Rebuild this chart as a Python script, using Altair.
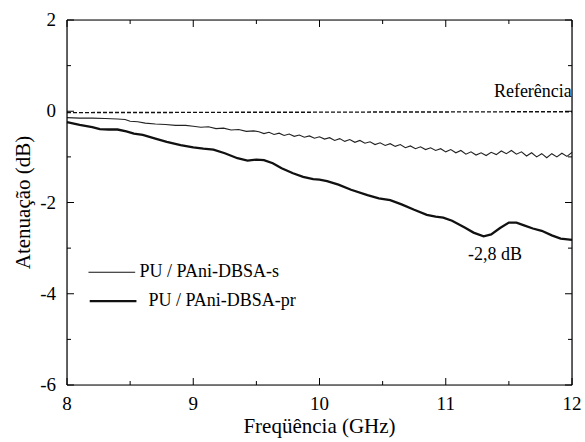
import altair as alt
import pandas as pd

# ---- data ----
s_x = [8.0, 8.1, 8.2, 8.3, 8.4, 8.46, 8.5, 8.56, 8.62, 8.7, 8.78, 8.86, 8.94, 9.0, 9.06, 9.12,
       9.18, 9.24, 9.3, 9.36, 9.42, 9.48,
       9.52, 9.56, 9.60, 9.64, 9.68, 9.72, 9.76, 9.80, 9.84, 9.88, 9.92, 9.96, 10.00, 10.04,
       10.08, 10.12, 10.16, 10.20, 10.24, 10.28, 10.32, 10.36, 10.40, 10.44, 10.48, 10.52,
       10.56, 10.60, 10.64, 10.68, 10.72, 10.76, 10.80, 10.84, 10.88, 10.92, 10.96, 11.00,
       11.04, 11.08, 11.12, 11.16, 11.20, 11.24, 11.28, 11.32, 11.36, 11.40, 11.44, 11.48,
       11.52, 11.56, 11.60, 11.64, 11.68, 11.72, 11.76, 11.80, 11.84, 11.88, 11.92, 11.96, 12.00]
s_y = [-0.14, -0.15, -0.15, -0.16, -0.17, -0.18, -0.22, -0.23, -0.26, -0.28, -0.29, -0.31, -0.31, -0.33, -0.35, -0.34,
       -0.38, -0.37, -0.41, -0.40, -0.44, -0.43,
       -0.45, -0.49, -0.46, -0.51, -0.48, -0.53, -0.50, -0.55, -0.52, -0.57, -0.54, -0.59, -0.56, -0.61,
       -0.58, -0.64, -0.60, -0.66, -0.62, -0.68, -0.64, -0.70, -0.67, -0.73, -0.69, -0.75,
       -0.71, -0.77, -0.73, -0.80, -0.76, -0.82, -0.78, -0.84, -0.80, -0.86, -0.82, -0.89,
       -0.84, -0.91, -0.86, -0.94, -0.89, -0.96, -0.91, -0.97, -0.90, -0.95, -0.87, -0.93,
       -0.86, -0.94, -0.89, -0.98, -0.91, -1.00, -0.93, -1.02, -0.93, -1.00, -0.92, -0.99, -0.90]

pr_x = [8.0, 8.1, 8.2, 8.26, 8.33, 8.40, 8.47, 8.53, 8.60, 8.70, 8.79, 8.9, 9.0, 9.08, 9.16, 9.25,
        9.35, 9.43, 9.50, 9.56, 9.63, 9.70, 9.79, 9.87, 9.95, 10.0, 10.06, 10.15, 10.25, 10.38,
        10.47, 10.56, 10.65, 10.75, 10.85, 10.92, 10.98, 11.05, 11.15, 11.22, 11.30, 11.36,
        11.43, 11.50, 11.56, 11.62, 11.69, 11.76, 11.84, 11.91, 12.0]
pr_y = [-0.24, -0.30, -0.35, -0.39, -0.40, -0.40, -0.44, -0.49, -0.52, -0.60, -0.67, -0.74, -0.79, -0.82, -0.84, -0.92,
        -1.03, -1.08, -1.06, -1.07, -1.14, -1.25, -1.36, -1.44, -1.49, -1.50, -1.53, -1.61, -1.72, -1.84,
        -1.91, -1.95, -2.04, -2.16, -2.27, -2.31, -2.33, -2.40, -2.55, -2.66, -2.74, -2.70,
        -2.56, -2.44, -2.44, -2.50, -2.57, -2.62, -2.72, -2.79, -2.82]

ref_x = [8.0, 12.0]
ref_y = [-0.03, -0.01]

legend_labels = ["PU / PAni-DBSA-s", "PU / PAni-DBSA-pr"]
legend_line_x1 = [8.17, 8.18]
legend_line_x2 = [8.54, 8.55]
legend_y = [-3.53, -4.16]
legend_text_x = [8.575, 8.645]

annot_text = ["Referência", "-2,8 dB"]
annot_x = [11.69, 11.39]
annot_y = [0.42, -3.15]

x_major = [8, 9, 10, 11, 12]
x_minor = [8.5, 9.5, 10.5, 11.5]
y_major = [-6, -4, -2, 0, 2]
y_minor = [-5, -3, -1, 1]
x_labels = ["8", "9", "10", "11", "12"]
y_labels = ["-6", "-4", "-2", "0", "2"]
x_title = "Freqüência (GHz)"
y_title = "Atenuação (dB)"

FONT = "Liberation Serif"
W, H = 505, 365

xs = alt.Scale(domain=[8, 12], nice=False, zero=False)
ys = alt.Scale(domain=[-6, 2], nice=False, zero=False)


def X(f):
    return alt.X(f, scale=xs, axis=None)


def Y(f):
    return alt.Y(f, scale=ys, axis=None)


layers = []

# curves
layers.append(alt.Chart(pd.DataFrame({"x": s_x, "y": s_y})).mark_line(
    color="#222222", strokeWidth=1.1).encode(x=X("x:Q"), y=Y("y:Q")))
layers.append(alt.Chart(pd.DataFrame({"x": pr_x, "y": pr_y})).mark_line(
    color="#111111", strokeWidth=2.3).encode(x=X("x:Q"), y=Y("y:Q")))
layers.append(alt.Chart(pd.DataFrame({"x": ref_x, "y": ref_y})).mark_line(
    color="#111111", strokeWidth=1.4, strokeDash=[4, 2]).encode(x=X("x:Q"), y=Y("y:Q")))

# legend lines (one chart each)
for i, w in enumerate([1.1, 2.3]):
    d = pd.DataFrame({"x1": [legend_line_x1[i]], "x2": [legend_line_x2[i]], "y": [legend_y[i]]})
    layers.append(alt.Chart(d).mark_rule(color="#111111", strokeWidth=w).encode(
        x=X("x1:Q"), x2="x2:Q", y=Y("y:Q")))

# frame
layers.append(alt.Chart(pd.DataFrame({"x": [8, 12]})).mark_rule(color="black", strokeWidth=1.2).encode(
    x=X("x:Q"), y=alt.value(0), y2=alt.value(H)))
layers.append(alt.Chart(pd.DataFrame({"y": [-6, 2]})).mark_rule(color="black", strokeWidth=1.2).encode(
    y=Y("y:Q"), x=alt.value(0), x2=alt.value(W)))

# inward ticks on all four sides
for vals, length in [(x_major, 7), (x_minor, 4)]:
    d = pd.DataFrame({"x": vals})
    layers.append(alt.Chart(d).mark_rule(color="black", strokeWidth=1).encode(
        x=X("x:Q"), y=alt.value(H), y2=alt.value(H - length)))
    layers.append(alt.Chart(d).mark_rule(color="black", strokeWidth=1).encode(
        x=X("x:Q"), y=alt.value(0), y2=alt.value(length)))
for vals, length in [(y_major, 7), (y_minor, 4)]:
    d = pd.DataFrame({"y": vals})
    layers.append(alt.Chart(d).mark_rule(color="black", strokeWidth=1).encode(
        y=Y("y:Q"), x=alt.value(0), x2=alt.value(length)))
    layers.append(alt.Chart(d).mark_rule(color="black", strokeWidth=1).encode(
        y=Y("y:Q"), x=alt.value(W), x2=alt.value(W - length)))

# texts
layers.append(alt.Chart(pd.DataFrame({"x": annot_x, "y": annot_y, "t": annot_text})).mark_text(
    font=FONT, fontSize=18, align="center").encode(x=X("x:Q"), y=Y("y:Q"), text="t:N"))
layers.append(alt.Chart(pd.DataFrame({"x": legend_text_x, "y": legend_y, "t": legend_labels})).mark_text(
    font=FONT, fontSize=18, align="left").encode(x=X("x:Q"), y=Y("y:Q"), text="t:N"))
layers.append(alt.Chart(pd.DataFrame({"v": x_major, "t": x_labels})).mark_text(
    font=FONT, fontSize=19, align="center").encode(x=X("v:Q"), y=alt.value(H + 19), text="t:N"))
layers.append(alt.Chart(pd.DataFrame({"v": y_major, "t": y_labels})).mark_text(
    font=FONT, fontSize=19, align="right").encode(y=Y("v:Q"), x=alt.value(-11), text="t:N"))
layers.append(alt.Chart(pd.DataFrame({"t": [x_title]})).mark_text(
    font=FONT, fontSize=21, align="center").encode(x=alt.value(W / 2), y=alt.value(H + 42), text="t:N"))
layers.append(alt.Chart(pd.DataFrame({"t": [y_title]})).mark_text(
    font=FONT, fontSize=21, align="center", angle=270).encode(x=alt.value(-43), y=alt.value(H / 2), text="t:N"))

chart = alt.layer(*layers).properties(
    width=W, height=H,
    autosize=alt.AutoSizeParams(type="none"),
    padding={"left": 67, "top": 20, "right": 13, "bottom": 57},
)

chart.save("out.html", embed_options={"renderer": "svg", "actions": False})
